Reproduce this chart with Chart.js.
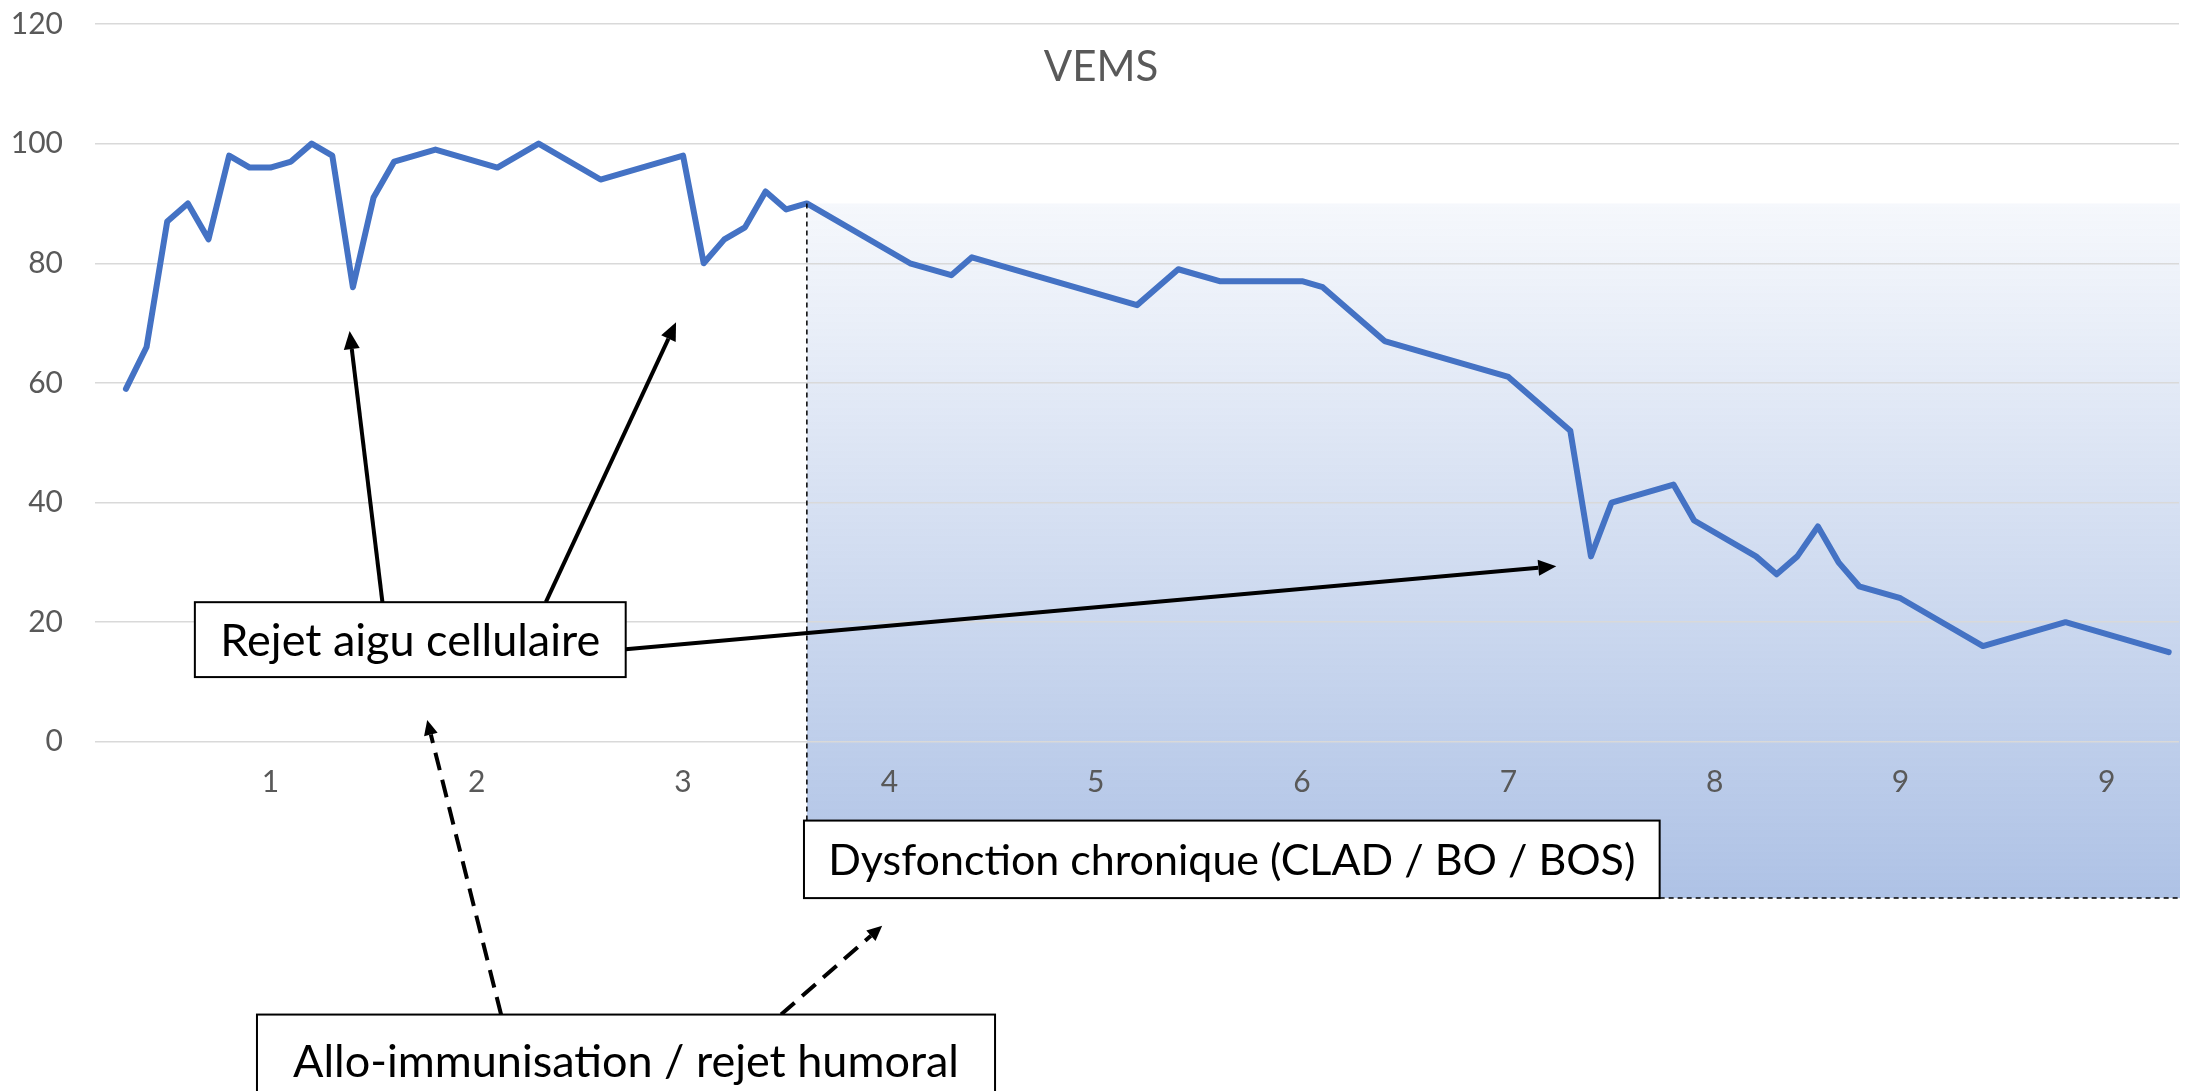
<!DOCTYPE html>
<html lang="fr">
<head>
<meta charset="utf-8">
<title>VEMS</title>
<script src="https://cdn.jsdelivr.net/npm/chart.js@4.4.1/dist/chart.umd.min.js"></script>
<style>
  html, body { margin: 0; padding: 0; background: #ffffff; }
  #wrap { width: 2190px; height: 1091px; position: relative; }
</style>
</head>
<body>
<div id="wrap"><canvas id="vemsChart"></canvas></div>
<script>
const positions = [0, 1, 2, 3, 4, 5, 6, 7, 8, 9, 10, 11, 12, 13, 15, 18, 20, 23, 27, 28,
    29, 30, 31, 32, 33, 38, 40, 41, 49, 51, 53, 57, 58, 61, 67, 70, 71, 72, 75, 76,
    79, 80, 81, 82, 83, 84, 86, 90, 94, 96, 99];
const vems = [59, 66, 87, 90, 84, 98, 96, 96, 97, 100, 98, 76, 91, 97, 99, 96, 100, 94, 98, 80,
    84, 86, 92, 89, 90, 80, 78, 81, 73, 79, 77, 77, 76, 67, 61, 52, 31, 40, 43, 37,
    31, 28, 31, 36, 30, 26, 24, 16, 20, 18, 15];

// Graduations
const xTickPositions = [7, 17, 27, 37, 47, 57, 67, 77, 86, 96];
const xTickLabels = ['1', '2', '3', '4', '5', '6', '7', '8', '9', '9'];
const yMin = 0, yMax = 120, yStep = 20;

// Annotations (coordonnées dans les unités des axes)
const zone = { x0: 33, y0: 90 };
const boxes = [
    { text: 'Rejet aigu cellulaire', x0: 3.34, x1: 24.22, y0: 23.34, y1: 10.82, size: 45 },
    { text: 'Dysfonction chronique (CLAD / BO / BOS)', x0: 32.86, x1: 74.33, y0: -13.17, y1: -26.13, size: 43 },
    { text: 'Allo-immunisation / rejet humoral', x0: 6.35, x1: 42.12, y0: -45.6, y1: -60.9, size: 45 }
];
const arrows = [
    { from: [12.43, 23.34], to: [10.84, 68.66], dashed: false },
    { from: [20.35, 23.34], to: [26.66, 70.13], dashed: false },
    { from: [24.22, 15.49], to: [69.32, 29.35], dashed: false },
    { from: [18.18, -45.6], to: [14.6, 3.64], dashed: true },
    { from: [31.75, -45.6], to: [36.65, -30.75], dashed: true }
];

const FONT = 'Lato, "Open Sans", sans-serif';
const GREY = '#595959';

function drawArrow(ctx, x1, y1, x2, y2, dashed) {
    const ang = Math.atan2(y2 - y1, x2 - x1);
    const len = dashed ? 15 : 18;
    const half = dashed ? 7 : 8;
    const bx = x2 - Math.cos(ang) * len;
    const by = y2 - Math.sin(ang) * len;
    ctx.save();
    ctx.strokeStyle = '#000';
    ctx.fillStyle = '#000';
    ctx.lineWidth = 4;
    ctx.setLineDash(dashed ? [18, 10] : []);
    ctx.beginPath();
    ctx.moveTo(x1, y1);
    ctx.lineTo(bx, by);
    ctx.stroke();
    ctx.setLineDash([]);
    ctx.beginPath();
    ctx.moveTo(x2, y2);
    ctx.lineTo(bx + Math.sin(ang) * half, by - Math.cos(ang) * half);
    ctx.lineTo(bx - Math.sin(ang) * half, by + Math.cos(ang) * half);
    ctx.closePath();
    ctx.fill();
    ctx.restore();
}

const annotationsPlugin = {
    id: 'annotations',
    beforeDraw(chart) {
        const ctx = chart.ctx;
        const xs = chart.scales.x, ys = chart.scales.y;
        const area = chart.chartArea;
        const left = xs.getPixelForValue(zone.x0);
        const top = ys.getPixelForValue(zone.y0);
        const bottom = ys.getPixelForValue(boxes[1].y1);
        const right = area.right + 1;
        const grad = ctx.createLinearGradient(0, top, 0, bottom);
        grad.addColorStop(0, 'rgba(68, 114, 196, 0.05)');
        grad.addColorStop(1, 'rgba(68, 114, 196, 0.43)');
        ctx.save();
        ctx.fillStyle = grad;
        ctx.fillRect(left, top, right - left, bottom - top);
        ctx.restore();
    },
    afterDraw(chart) {
        const ctx = chart.ctx;
        const xs = chart.scales.x, ys = chart.scales.y;
        const area = chart.chartArea;
        const px = v => xs.getPixelForValue(v);
        const py = v => ys.getPixelForValue(v);

        // bords pointillés de la zone
        const b2 = boxes[1];
        ctx.save();
        ctx.strokeStyle = '#000';
        ctx.lineWidth = 1.5;
        ctx.setLineDash([5, 4]);
        ctx.beginPath();
        ctx.moveTo(px(zone.x0), py(zone.y0));
        ctx.lineTo(px(zone.x0), py(b2.y0));
        ctx.moveTo(px(b2.x1), py(b2.y1));
        ctx.lineTo(area.right + 1, py(b2.y1));
        ctx.stroke();
        ctx.restore();

        // titre
        ctx.save();
        ctx.fillStyle = GREY;
        ctx.font = '42px ' + FONT;
        ctx.textAlign = 'center';
        ctx.textBaseline = 'middle';
        ctx.fillText('VEMS', chart.width / 2 + 6, py(112.8));
        ctx.restore();

        arrows.forEach(a => drawArrow(ctx, px(a.from[0]), py(a.from[1]), px(a.to[0]), py(a.to[1]), a.dashed));

        boxes.forEach(b => {
            const x0 = px(b.x0), x1 = px(b.x1), y0 = py(b.y0), y1 = py(b.y1);
            ctx.save();
            ctx.fillStyle = '#ffffff';
            ctx.fillRect(x0, y0, x1 - x0, y1 - y0);
            ctx.strokeStyle = '#000';
            ctx.lineWidth = 2;
            ctx.strokeRect(x0, y0, x1 - x0, y1 - y0);
            ctx.fillStyle = '#000';
            ctx.font = b.size + 'px ' + FONT;
            ctx.textAlign = 'center';
            ctx.textBaseline = 'middle';
            ctx.fillText(b.text, (x0 + x1) / 2, (y0 + y1) / 2 + 2);
            ctx.restore();
        });
    }
};

const ctx = document.getElementById('vemsChart').getContext('2d');
new Chart(ctx, {
    type: 'line',
    data: {
        datasets: [{
            label: 'VEMS',
            data: positions.map((p, i) => ({ x: p, y: vems[i] })),
            borderColor: '#4472C4',
            borderWidth: 6,
            borderJoinStyle: 'round',
            borderCapStyle: 'round',
            pointRadius: 0,
            tension: 0,
            fill: false
        }]
    },
    options: {
        responsive: true,
        maintainAspectRatio: false,
        devicePixelRatio: 1,
        animation: false,
        layout: { padding: { top: 24, right: 11, left: 0, bottom: 0 } },
        plugins: {
            legend: { display: false },
            title: { display: false },
            tooltip: { enabled: false }
        },
        scales: {
            x: {
                type: 'linear',
                min: -1.5,
                max: 99.5,
                afterBuildTicks: axis => { axis.ticks = xTickPositions.map(v => ({ value: v })); },
                afterFit: axis => {
                    axis.height = 349.2;
                    axis.paddingTop = 0; axis.paddingBottom = 0;
                    axis.paddingLeft = 0; axis.paddingRight = 0;
                },
                grid: { display: false },
                border: { display: false },
                ticks: {
                    autoSkip: false,
                    maxRotation: 0,
                    padding: 15,
                    color: GREY,
                    font: { family: FONT, size: 30 },
                    callback: (value, index) => xTickLabels[index]
                }
            },
            y: {
                min: yMin,
                max: yMax,
                afterFit: axis => {
                    axis.width = 95;
                    axis.paddingTop = 0; axis.paddingBottom = 0;
                },
                grid: { color: '#d9d9d9', lineWidth: 1.5, drawTicks: false },
                border: { display: false },
                ticks: {
                    stepSize: yStep,
                    padding: 32,
                    color: GREY,
                    font: { family: FONT, size: 30 }
                }
            }
        }
    },
    plugins: [annotationsPlugin]
});
</script>
</body>
</html>
